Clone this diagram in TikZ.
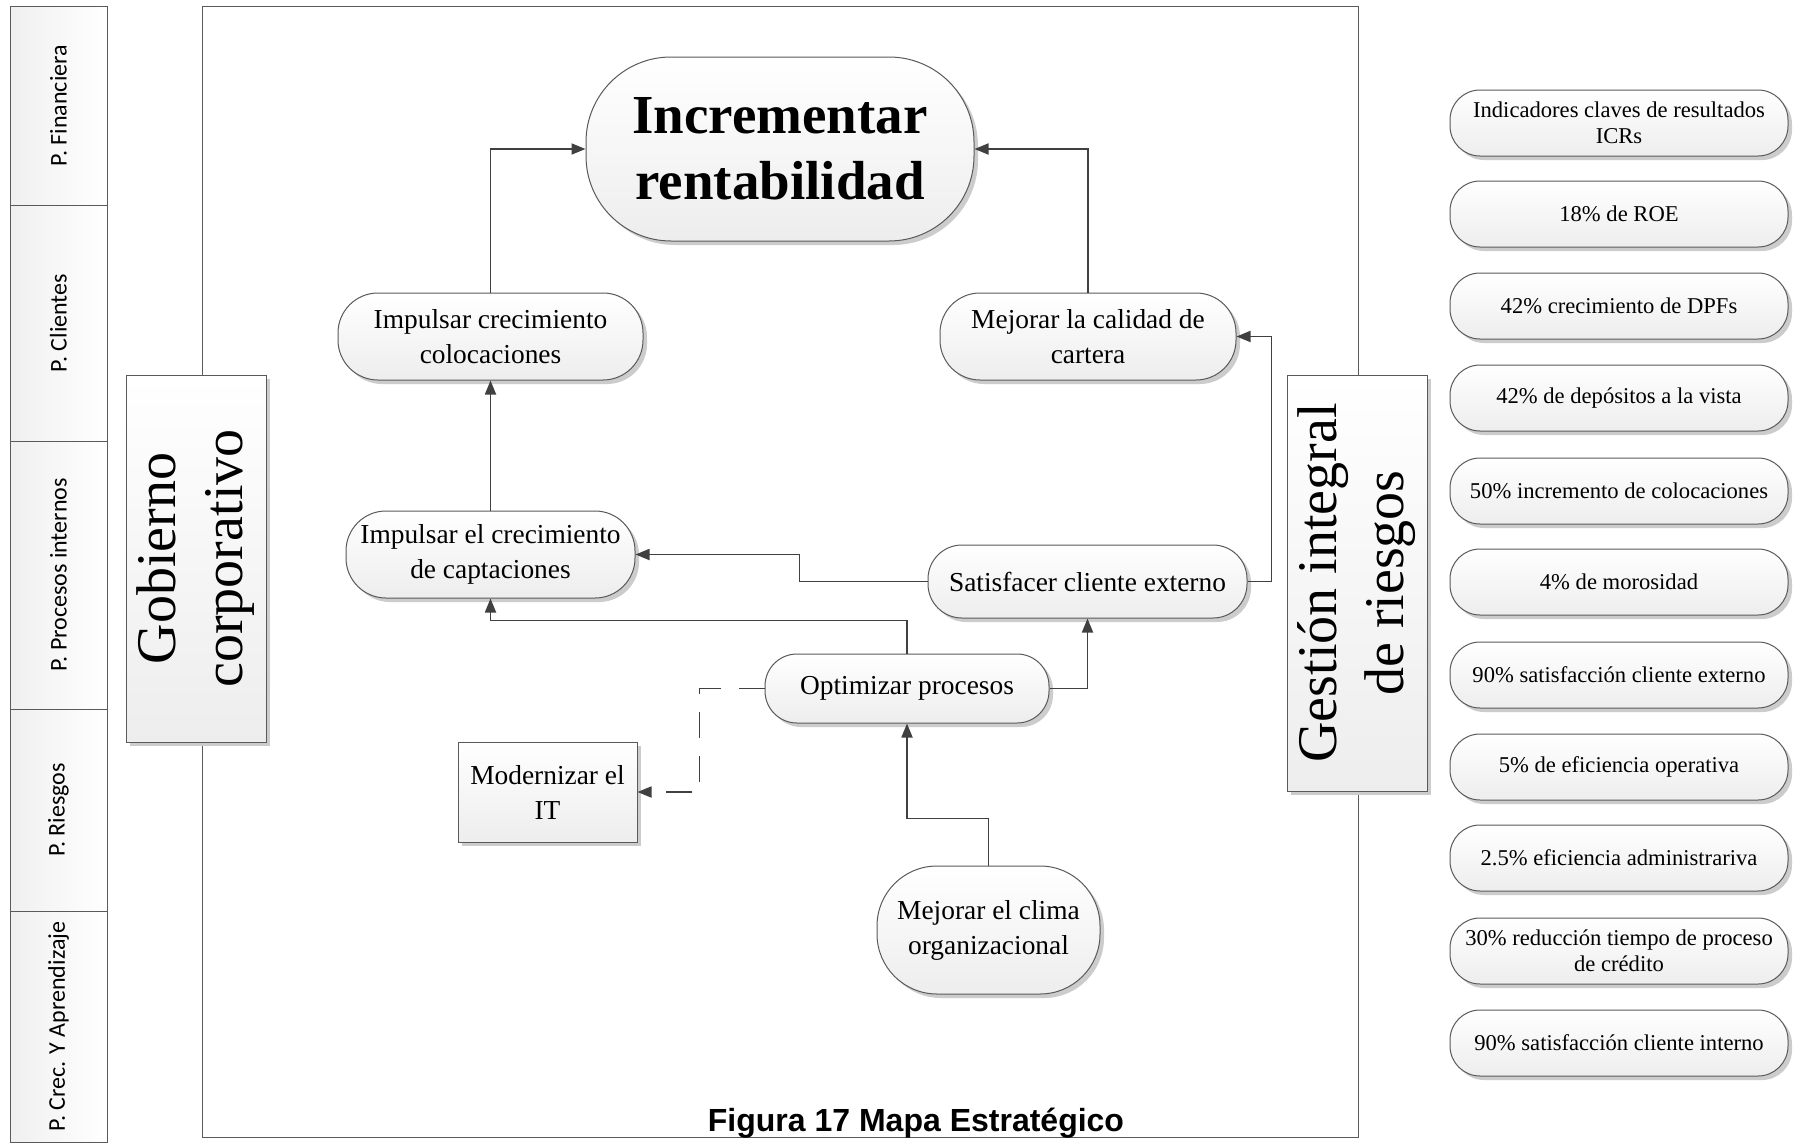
\documentclass[tikz,border=0pt]{standalone}
\usepackage{fontspec}
\setmainfont{Liberation Serif}
\newfontfamily\capfont{Liberation Sans}
\newfontfamily\calfont{Carlito}
\usetikzlibrary{arrows.meta}
\definecolor{lnc}{HTML}{404040}
\definecolor{brd}{HTML}{5A5A5A}
\definecolor{shd}{HTML}{CCCCCC}
\tikzset{
  shadowed/.style={preaction={fill=shd, draw=none, transform canvas={xshift=4pt,yshift=-4pt}}},
  base/.style={shadowed, draw=brd, line width=1pt, top color=white, bottom color=gray!14, align=center, inner sep=0pt, rectangle},
  pill/.style={base, font=\fontsize{27.4}{35}\selectfont},
  kpi/.style={base, minimum width=338, minimum height=66, rounded corners=30, font=\fontsize{22.6}{26}\selectfont},
  persp/.style={draw=brd, line width=1pt, left color=gray!12, right color=white, rotate=90, minimum height=97, inner sep=0pt, font=\calfont\fontsize{24}{28}\selectfont},
  vbig/.style={base, rotate=90, minimum height=140, font=\fontsize{56}{67}\selectfont},
  frame/.style={draw=brd, line width=1pt},
  conn/.style={draw=lnc, line width=1.8pt, -{Triangle[length=14pt,width=11pt]}},
  dconn/.style={conn, dash pattern=on 26pt off 18pt},
}
\begin{document}
\begin{tikzpicture}[x=1pt,y=-1pt]
\useasboundingbox (0,0) rectangle (1796,1143);
\fill[white] (0,0) rectangle (1796,1143);
\draw[frame] (202,6) rectangle (1358,1137);
% perspectives column
\node[persp, minimum width=199] (pf) at (58.5,105.5) {P. Financiera};
\node[persp, minimum width=236] (pc) at (58.5,323) {P. Clientes};
\node[persp, minimum width=268] (pp) at (58.5,575) {P. Procesos internos};
\node[persp, minimum width=202] (pr) at (58.5,810) {P. Riesgos};
\node[persp, minimum width=231] (pa) at (58.5,1026.5) {P. Crec. Y Aprendizaje};
% side bars
\node[vbig, minimum width=367] (gob) at (196,558.5) {Gobierno\\corporativo};
\node[vbig, minimum width=416] (ges) at (1357,583) {Gestión integral\\de riesgos};
% main nodes
\node[base, minimum width=388, minimum height=184, rounded corners=85, font=\bfseries\fontsize{55}{66}\selectfont] (inc) at (780,149) {Incrementar\\rentabilidad};
\node[pill, minimum width=305, minimum height=87, rounded corners=40] (col) at (490.5,336.5) {Impulsar crecimiento\\colocaciones};
\node[pill, minimum width=296, minimum height=87, rounded corners=40] (cal) at (1088,336.5) {Mejorar la calidad de\\cartera};
\node[pill, minimum width=289, minimum height=87, rounded corners=40] (cap) at (490.5,554.5) {Impulsar el crecimiento\\de captaciones};
\node[pill, minimum width=319, minimum height=73, rounded corners=34] (sat) at (1087.5,581.5) {Satisfacer cliente externo};
\node[pill, minimum width=284, minimum height=69, rounded corners=32] (opt) at (907,688.5) {Optimizar procesos};
\node[pill, minimum width=179, minimum height=100] (mod) at (547.5,792) {Modernizar el\\IT};
\node[pill, minimum width=223, minimum height=128, rounded corners=60] (clima) at (988.5,930) {Mejorar el clima\\organizacional};
% KPIs
\node[kpi] (k1) at (1619,123) {Indicadores claves de resultados\\ICRs};
\node[kpi] (k2) at (1619,214) {18\% de ROE};
\node[kpi] (k3) at (1619,306) {42\% crecimiento de DPFs};
\node[kpi] (k4) at (1619,398) {42\% de depósitos a la vista};
\node[kpi] (k5) at (1619,491) {50\% incremento de colocaciones};
\node[kpi] (k6) at (1619,582) {4\% de morosidad};
\node[kpi] (k7) at (1619,675) {90\% satisfacción cliente externo};
\node[kpi] (k8) at (1619,767) {5\% de eficiencia operativa};
\node[kpi] (k9) at (1619,858) {2.5\% eficiencia administrariva};
\node[kpi] (k10) at (1619,951) {30\% reducción tiempo de proceso\\de crédito};
\node[kpi] (k11) at (1619,1043) {90\% satisfacción cliente interno};
% connectors
\draw[conn] (col.north) |- (inc.west);
\draw[conn] (cal.north) |- (inc.east);
\draw[conn] (cap.north) -- (col.south);
\draw[conn] (sat.west) -- ++(-128,0) |- (cap.east);
\draw[conn] (sat.east) -- ++(24,0) |- (cal.east);
\draw[conn] (opt.north) -- ++(0,-33) -| (cap.south);
\draw[conn] (opt.east) -| (sat.south);
\draw[dconn] (opt.west) -- ++(-65,0) |- (mod.east);
\draw[conn] (clima.north) -- ++(0,-47) -| (opt.south);
% caption
\node[anchor=base, inner sep=0pt, font=\capfont\bfseries\fontsize{32}{36}\selectfont] (cap17) at (916,1131) {Figura 17 Mapa Estratégico};
\end{tikzpicture}
\end{document}
